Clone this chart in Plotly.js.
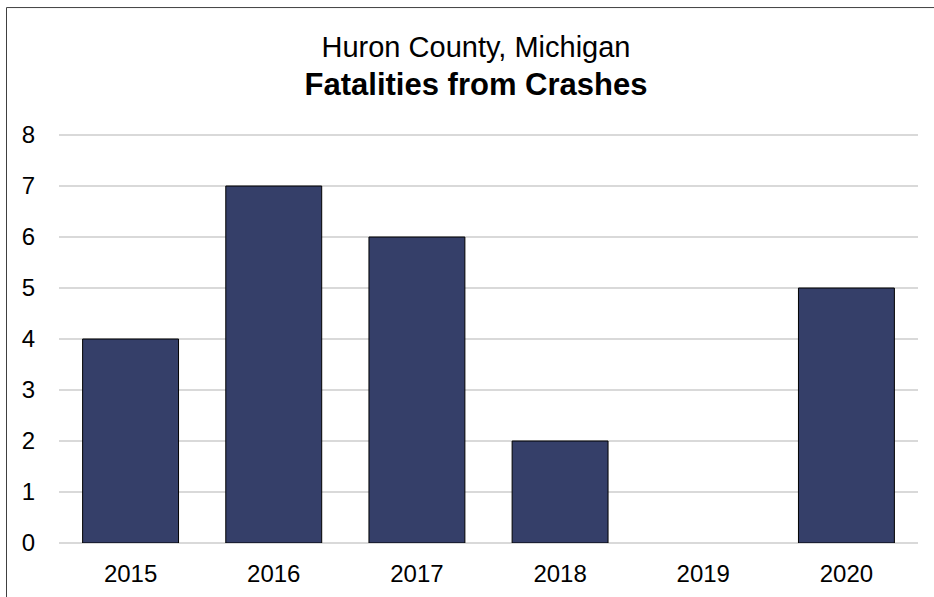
<!DOCTYPE html>
<html>
<head>
<meta charset="utf-8">
<script src="https://cdn.plot.ly/plotly-3.0.1.min.js"></script>
<style>html,body{margin:0;padding:0;background:#fff;}#chart{width:934px;height:597px;}</style>
</head>
<body>
<div id="chart"></div>
<script>
const years = ['2015', '2016', '2017', '2018', '2019', '2020'];
const fatalities = [4, 7, 6, 2, 0, 5];
const titleLine1 = 'Huron County, Michigan';
const titleLine2 = 'Fatalities from Crashes';

const trace = {
  type: 'bar',
  x: years,
  y: fatalities,
  marker: {
    color: '#353F69',
    line: { color: '#000000', width: fatalities.map(v => v > 0 ? 1 : 0) }
  },
  hoverinfo: 'x+y'
};

const yMax = 8.04;
const plotH = 408 * yMax / 8;

const layout = {
  width: 934,
  height: 597,
  margin: { l: 59, r: 16, t: 597 - 54 - plotH, b: 54 },
  paper_bgcolor: '#ffffff',
  plot_bgcolor: '#ffffff',
  bargap: 0.33,
  showlegend: false,
  font: { family: 'Liberation Sans, Arial, sans-serif', color: '#000000', size: 24 },
  title: {
    text: titleLine1 + '<br><b><span style="font-size:31px">' + titleLine2 + '</span></b>',
    x: 476 / 934,
    xanchor: 'center',
    y: 1 - 57 / 597,
    yanchor: 'middle',
    font: { family: 'Liberation Sans, Arial, sans-serif', size: 29, color: '#000000' }
  },
  xaxis: {
    type: 'category',
    tickfont: { size: 24 },
    showgrid: false,
    showline: false,
    ticks: 'outside',
    ticklen: 9,
    tickcolor: 'rgba(0,0,0,0)',
    fixedrange: true
  },
  yaxis: {
    range: [0, yMax],
    dtick: 1,
    tickfont: { size: 24 },
    showgrid: true,
    gridcolor: '#d9d9d9',
    gridwidth: 1.5,
    zeroline: true,
    zerolinecolor: '#d9d9d9',
    zerolinewidth: 1.5,
    ticks: 'outside',
    ticklen: 18,
    tickcolor: 'rgba(0,0,0,0)',
    showline: false,
    fixedrange: true
  },
  shapes: [{
    type: 'rect',
    xref: 'paper', yref: 'paper',
    x0: (6.5 - 59) / 859, x1: 1.2,
    y0: -0.5, y1: (543 - 7.5) / plotH,
    line: { color: '#404040', width: 1 },
    fillcolor: 'rgba(0,0,0,0)',
    layer: 'below'
  }]
};

Plotly.newPlot('chart', [trace], layout, { displayModeBar: false, staticPlot: true });
</script>
</body>
</html>
